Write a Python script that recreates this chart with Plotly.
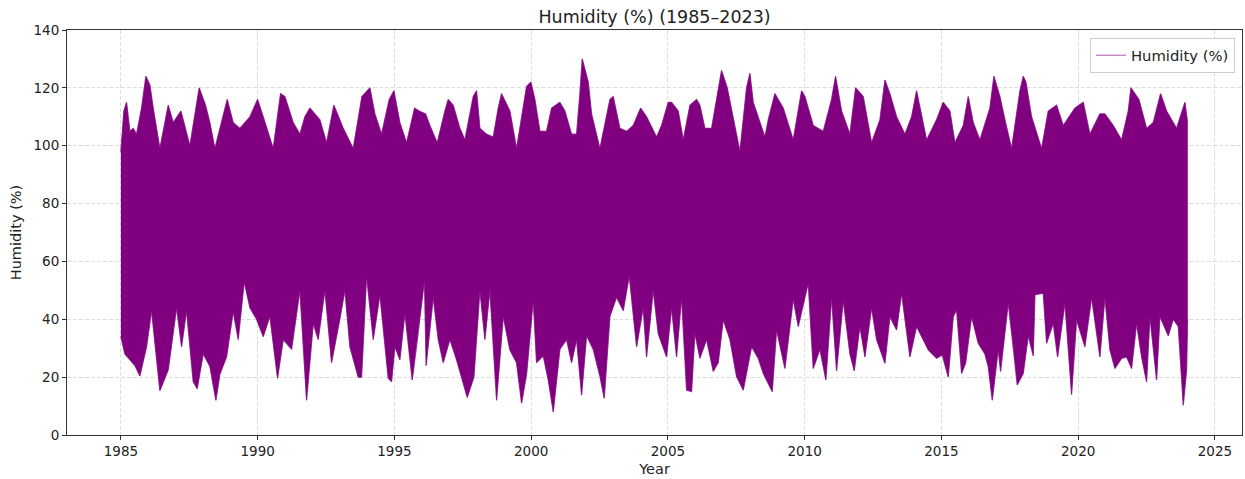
import plotly.graph_objects as go

# Upper envelope of the humidity series (decimal year, %)
upper_year = [1985.000, 1985.037, 1985.110, 1985.207, 1985.329, 1985.451, 1985.573, 1985.756, 1985.914, 1986.061,
              1986.182, 1986.426, 1986.731, 1986.914, 1987.194, 1987.523, 1987.864, 1988.096, 1988.254, 1988.437,
              1988.742, 1988.888, 1989.107, 1989.351, 1989.717, 1989.997, 1990.204, 1990.570, 1990.838, 1990.997,
              1991.301, 1991.545, 1991.728, 1991.911, 1992.276, 1992.520, 1992.788, 1993.130, 1993.495, 1993.812,
              1994.105, 1994.287, 1994.531, 1994.811, 1994.982, 1995.201, 1995.445, 1995.738, 1995.908, 1996.140,
              1996.298, 1996.566, 1996.847, 1996.968, 1997.151, 1997.395, 1997.578, 1997.883, 1998.004, 1998.126,
              1998.370, 1998.614, 1998.797, 1998.918, 1999.223, 1999.467, 1999.833, 1999.991, 2000.137, 2000.320,
              2000.564, 2000.747, 2001.051, 2001.234, 2001.478, 2001.661, 2001.783, 2001.868, 2002.088, 2002.209,
              2002.514, 2002.880, 2003.001, 2003.245, 2003.489, 2003.733, 2004.001, 2004.220, 2004.586, 2004.769,
              2005.012, 2005.134, 2005.378, 2005.561, 2005.805, 2006.048, 2006.170, 2006.353, 2006.597, 2006.841,
              2006.962, 2007.170, 2007.389, 2007.633, 2007.876, 2007.998, 2008.120, 2008.303, 2008.547, 2008.669,
              2008.912, 2009.217, 2009.583, 2009.887, 2010.009, 2010.314, 2010.680, 2010.984, 2011.130, 2011.350,
              2011.655, 2011.862, 2012.142, 2012.447, 2012.752, 2012.935, 2013.117, 2013.361, 2013.666, 2013.910,
              2014.092, 2014.458, 2014.823, 2015.067, 2015.311, 2015.494, 2015.798, 2015.981, 2016.164, 2016.408,
              2016.773, 2016.920, 2017.139, 2017.322, 2017.566, 2017.870, 2017.992, 2018.090, 2018.297, 2018.663,
              2018.906, 2019.211, 2019.455, 2019.881, 2020.186, 2020.430, 2020.795, 2020.978, 2021.283, 2021.587,
              2021.831, 2021.929, 2022.221, 2022.502, 2022.745, 2023.013, 2023.233, 2023.598, 2023.903, 2024.000]
upper_val = [98, 104, 112, 115, 105, 106, 104, 113, 124, 121,
             113, 99, 114, 108, 112, 100, 120, 114, 108, 99,
             111, 116, 108, 106, 110, 116, 110, 99, 118, 117,
             108, 104, 110, 113, 109, 101, 114, 106, 99, 117,
             120, 111, 104, 116, 119, 108, 101, 113, 112, 111,
             107, 101, 112, 116, 114, 106, 102, 117, 119, 106,
             104, 103, 113, 118, 112, 99, 120.5, 122, 116, 105,
             105, 113, 115, 112, 104, 104, 118, 130, 122, 111,
             99, 116, 117, 106, 105, 107, 113, 110, 103, 107,
             115, 115, 112, 102, 114, 116, 114, 106, 106, 119,
             126, 120, 110, 98, 120, 125, 115, 110, 103, 109,
             118, 113, 102, 119, 117, 107, 105, 116, 124, 112,
             104, 120, 117, 101, 109, 122.7, 118, 110, 104, 110,
             119, 102, 109, 115, 112, 101, 107, 117, 108, 102,
             113, 124, 117, 109, 99, 119, 124, 122, 110, 99,
             112, 114, 107, 113, 115, 104, 111, 111, 107, 102,
             112, 120, 116, 106, 108, 118, 112, 106, 115, 108]

# Lower envelope of the humidity series (decimal year, %)
lower_year = [1985.000, 1985.146, 1985.329, 1985.512, 1985.695, 1985.939, 1986.122, 1986.426, 1986.731, 1987.036,
              1987.219, 1987.401, 1987.645, 1987.791, 1988.011, 1988.254, 1988.474, 1988.620, 1988.864, 1989.107,
              1989.290, 1989.510, 1989.717, 1989.961, 1990.204, 1990.448, 1990.728, 1990.936, 1991.240, 1991.545,
              1991.789, 1992.033, 1992.215, 1992.459, 1992.703, 1993.008, 1993.191, 1993.373, 1993.678, 1993.800,
              1993.983, 1994.226, 1994.470, 1994.775, 1994.897, 1995.018, 1995.201, 1995.384, 1995.652, 1995.811,
              1996.100, 1996.160, 1996.420, 1996.603, 1996.786, 1997.029, 1997.273, 1997.663, 1997.907, 1998.126,
              1998.309, 1998.492, 1998.736, 1998.980, 1999.223, 1999.467, 1999.650, 1999.833, 2000.077, 2000.198,
              2000.442, 2000.625, 2000.808, 2001.051, 2001.295, 2001.478, 2001.661, 2001.844, 2002.027, 2002.270,
              2002.514, 2002.672, 2002.880, 2003.123, 2003.367, 2003.587, 2003.855, 2004.098, 2004.220, 2004.464,
              2004.647, 2004.951, 2005.134, 2005.317, 2005.500, 2005.683, 2005.866, 2005.987, 2006.170, 2006.414,
              2006.658, 2006.841, 2007.023, 2007.267, 2007.511, 2007.755, 2007.876, 2008.059, 2008.303, 2008.486,
              2008.815, 2008.973, 2009.278, 2009.583, 2009.766, 2010.009, 2010.131, 2010.314, 2010.558, 2010.777,
              2010.984, 2011.167, 2011.411, 2011.655, 2011.813, 2012.020, 2012.203, 2012.447, 2012.630, 2012.935,
              2013.117, 2013.361, 2013.544, 2013.849, 2014.092, 2014.336, 2014.519, 2014.823, 2015.030, 2015.250,
              2015.433, 2015.555, 2015.738, 2015.884, 2016.103, 2016.347, 2016.590, 2016.713, 2016.859, 2017.078,
              2017.163, 2017.444, 2017.627, 2017.773, 2017.992, 2018.175, 2018.358, 2018.419, 2018.723, 2018.845,
              2019.089, 2019.247, 2019.516, 2019.759, 2019.942, 2020.247, 2020.491, 2020.795, 2020.978, 2021.161,
              2021.344, 2021.588, 2021.770, 2021.953, 2022.136, 2022.319, 2022.502, 2022.624, 2022.867, 2022.989,
              2023.294, 2023.477, 2023.660, 2023.843, 2023.965, 2024.000]
lower_val = [34, 28, 26, 24, 20.4, 30.5, 43, 15.3, 22.5, 44,
             30.5, 43, 18.4, 16, 28, 23.7, 12, 21, 27, 42.7,
             33, 53, 44, 40, 34, 41, 19.6, 33, 29.6, 50,
             12, 38.5, 33, 50, 25, 40, 50, 30.5, 20, 20,
             55, 33, 48.5, 19.6, 18.4, 30.5, 26, 42, 19, 30.5,
             53.6, 24, 47.6, 33, 25, 33, 26, 13, 20, 50,
             33, 50, 12, 41, 29.4, 25, 11, 21, 46.7, 25,
             27.4, 19, 8, 29.6, 33, 25, 33, 13.8, 34.3, 29.6,
             20.3, 12.7, 41, 47.6, 43, 55, 30.5, 44, 27, 50,
             35, 27, 44, 27, 47.6, 15.5, 15, 35.2, 26.5, 33,
             22, 25, 39.8, 33, 20.2, 15.5, 21.3, 30.5, 26.5, 21.3,
             15, 36.3, 23, 47, 37.5, 47.5, 52.5, 23, 29.6, 19,
             47.6, 22.2, 46.5, 28, 22.2, 37.5, 27, 44, 33, 24.8,
             40.9, 36.3, 49, 27, 37.5, 33, 29.4, 26.5, 27.7, 20,
             40.9, 43.3, 21.3, 24.8, 40.9, 31.7, 28, 23.6, 12, 29.6,
             22, 45.6, 30.5, 17.3, 21.3, 34.3, 27.4, 48.5, 49, 31.7,
             38.6, 27, 45.6, 14, 39.8, 30.5, 47.6, 27, 47.6, 29.4,
             23, 26.5, 27, 23, 38.6, 27, 18.4, 41, 19, 41,
             34.3, 40, 37.5, 10.3, 22.5, 40]

x_ticks = [1985, 1990, 1995, 2000, 2005, 2010, 2015, 2020, 2025]
y_ticks = [0, 20, 40, 60, 80, 100, 120, 140]

FONT = "DejaVu Sans"
edge = "rgba(128,0,128,0.55)"

# closed band: upper envelope forwards, lower envelope backwards
band_x = upper_year + lower_year[::-1]
band_y = upper_val + lower_val[::-1]

fig = go.Figure()
fig.add_trace(go.Scatter(x=band_x, y=band_y, mode="lines", fill="toself",
                         fillcolor="#800080", line=dict(color="#800080", width=0.5),
                         showlegend=False, hoverinfo="skip"))
fig.add_trace(go.Scatter(x=upper_year, y=upper_val, mode="lines", name="Humidity (%)",
                         line=dict(color=edge, width=1.2), showlegend=True))
fig.add_trace(go.Scatter(x=lower_year, y=lower_val, mode="lines", name="Humidity (%)",
                         line=dict(color=edge, width=1.2), showlegend=False))

axis_common = dict(showline=True, linecolor="#333333", linewidth=1, mirror=True,
                   ticks="outside", ticklen=4, tickcolor="#333333",
                   showgrid=True, gridcolor="#dddddd", griddash="4px,2px", gridwidth=1,
                   zeroline=False, tickfont=dict(family=FONT, size=13.5, color="#222222"))

fig.update_layout(
    width=1245, height=479,
    margin=dict(l=67, r=3, t=30, b=44),
    plot_bgcolor="white", paper_bgcolor="white",
    font=dict(family=FONT, color="#222222"),
    title=dict(text="Humidity (%) (1985–2023)", xref="paper", x=0.5, xanchor="center",
               yref="container", y=1 - 17 / 479, yanchor="middle", font=dict(family=FONT, size=17.5)),
    xaxis=dict(range=[1983.03, 2025.99], tickvals=x_ticks, ticktext=[str(t) for t in x_ticks],
               title=dict(text="Year", font=dict(family=FONT, size=14.5), standoff=5), **axis_common),
    yaxis=dict(range=[0, 140], tickvals=y_ticks,
               title=dict(text="Humidity (%)", font=dict(family=FONT, size=14.5), standoff=8), **axis_common),
    legend=dict(x=0.994, y=0.98, xanchor="right", yanchor="top",
                bgcolor="white", bordercolor="#cccccc", borderwidth=1,
                font=dict(family=FONT, size=14.8)),
)

fig.write_html("out.html")
